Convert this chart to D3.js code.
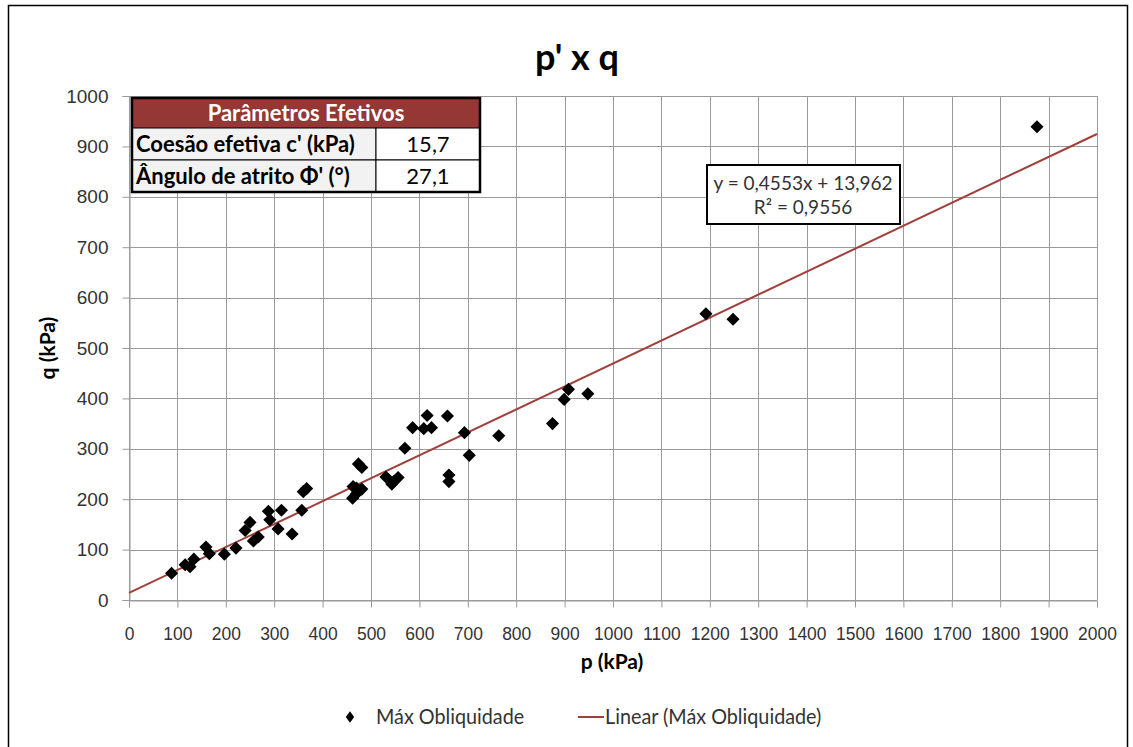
<!DOCTYPE html>
<html>
<head>
<meta charset="utf-8">
<script src="https://cdn.jsdelivr.net/npm/d3@7"></script>
<style>
  body { margin: 0; background: #fff; }
  svg { font-family: Lato, "Open Sans", sans-serif; }
</style>
</head>
<body>
<div id="chart"></div>
<script>
// tensões p x q na ruptura (máx obliquidade)
var pValues = [88, 116, 126, 134, 159, 166, 197, 221, 240, 250, 257, 267, 288, 291, 308, 315, 337,
  357, 360, 367, 462, 470, 470, 474, 481, 481, 463, 531, 543, 556, 548, 570, 586, 609, 616, 625,
  658, 661, 661, 693, 703, 764, 875, 899, 908, 948, 1192, 1248, 1876];
var qValues = [53, 70, 66, 81, 105, 92, 91, 103, 138, 154, 117, 125, 176, 159, 141, 178, 131,
  178, 215, 221, 202, 211, 222, 270, 263, 220, 225, 244, 230, 243, 236, 301, 342, 340, 366, 342,
  365, 248, 235, 332, 287, 326, 350, 398, 418, 409, 568, 557, 939];

var trendSlope = 0.4553;
var trendIntercept = 13.962;
var xTicks = d3.range(0, 2001, 100);
var yTicks = d3.range(0, 1001, 100);

var tableHeader = "Parâmetros Efetivos";
var tableRows = [["Coesão efetiva c' (kPa)", "15,7"], ["Ângulo de atrito Φ' (°)", "27,1"]];
var equationLines = ["y = 0,4553x + 13,962", "R² = 0,9556"];

var width = 1133, height = 747;
var plot = {left: 129, right: 1097, top: 96, bottom: 600};
var textColor = "#333";
var lineColor = "#a0403c";

var svg = d3.select("#chart").append("svg")
  .attr("width", width)
  .attr("height", height);

// moldura do gráfico
svg.append("rect")
  .attr("x", 8.5).attr("y", 5.5)
  .attr("width", 1119).attr("height", 760)
  .attr("fill", "#fff")
  .attr("stroke", "#000")
  .attr("stroke-width", 1.5);

var x = d3.scaleLinear().domain([0, 2000]).range([plot.left, plot.right]);
var y = d3.scaleLinear().domain([0, 1000]).range([plot.bottom, plot.top]);

// grade
var grid = svg.append("g");
grid.selectAll(".vg").data(xTicks).enter().append("line")
  .attr("x1", d => Math.round(x(d)) + 0.5).attr("x2", d => Math.round(x(d)) + 0.5)
  .attr("y1", plot.top).attr("y2", plot.bottom)
  .attr("stroke", "#9a9a9a");
grid.selectAll(".hg").data(yTicks).enter().append("line")
  .attr("x1", plot.left).attr("x2", plot.right)
  .attr("y1", d => Math.round(y(d)) + 0.5).attr("y2", d => Math.round(y(d)) + 0.5)
  .attr("stroke", "#9a9a9a");

// eixos
var yAxis = svg.append("g")
  .attr("transform", "translate(" + (plot.left + 0.5) + ",0)")
  .call(d3.axisLeft(y).tickValues(yTicks).tickSize(7).tickPadding(14).tickFormat(d3.format("d")));
yAxis.select(".domain").attr("stroke", "#9a9a9a");
yAxis.selectAll(".tick line").attr("stroke", "#9a9a9a");
yAxis.selectAll("text")
  .style("font-size", "19px")
  .attr("fill", textColor);

var xAxis = svg.append("g")
  .attr("transform", "translate(0," + (plot.bottom + 0.5) + ")")
  .call(d3.axisBottom(x).tickValues(xTicks).tickSize(7).tickFormat(d3.format("d")));
xAxis.select(".domain").attr("stroke", "#9a9a9a");
xAxis.selectAll(".tick line").attr("stroke", "#9a9a9a");
xAxis.selectAll("text")
  .attr("y", 0)
  .attr("dy", 0)
  .attr("transform", "translate(0,39) scale(0.92,1)")
  .style("font-size", "19px")
  .attr("fill", textColor);

// linha de tendência
var trend = d3.line()
  .x(d => x(d))
  .y(d => y(trendSlope * d + trendIntercept));
svg.append("path")
  .datum([0, 2000])
  .attr("d", trend)
  .attr("fill", "none")
  .attr("stroke", lineColor)
  .attr("stroke-width", 2);

// pontos
var diamond = d3.symbol().type(d3.symbolDiamond2).size(110);
svg.append("g").selectAll("path")
  .data(pValues.map((p, i) => ({p: p, q: qValues[i]})))
  .enter().append("path")
  .attr("d", diamond)
  .attr("transform", d => "translate(" + x(d.p) + "," + y(d.q) + ")")
  .attr("fill", "#000");

// títulos
svg.append("text")
  .attr("x", 577).attr("y", 70)
  .attr("text-anchor", "middle")
  .style("font-size", "36px").style("font-weight", "bold")
  .attr("fill", "#000")
  .text("p' x q");

svg.append("text")
  .attr("transform", "translate(55,348) rotate(-90)")
  .attr("text-anchor", "middle")
  .style("font-size", "21px").style("font-weight", "bold")
  .attr("fill", "#000")
  .text("q (kPa)");

svg.append("text")
  .attr("x", 612).attr("y", 669)
  .attr("text-anchor", "middle")
  .style("font-size", "21px").style("font-weight", "bold")
  .attr("fill", "#000")
  .text("p (kPa)");

// tabela de parâmetros
var table = svg.append("g").attr("transform", "translate(132,98)");
var colW = [244, 104], headH = 30, rowH = 32;
table.append("rect")
  .attr("width", colW[0] + colW[1]).attr("height", headH)
  .attr("fill", "#953735");
table.append("text")
  .attr("x", (colW[0] + colW[1]) / 2).attr("y", 23)
  .attr("text-anchor", "middle")
  .style("font-size", "22px").style("font-weight", "bold")
  .attr("fill", "#fff")
  .text(tableHeader);
tableRows.forEach(function(r, i) {
  var ty = headH + i * rowH;
  table.append("rect")
    .attr("y", ty).attr("width", colW[0]).attr("height", rowH)
    .attr("fill", "#f2f2f2").attr("stroke", "#000").attr("stroke-width", 1);
  table.append("rect")
    .attr("x", colW[0]).attr("y", ty).attr("width", colW[1]).attr("height", rowH)
    .attr("fill", "#fff").attr("stroke", "#000").attr("stroke-width", 1);
  table.append("text")
    .attr("x", 4).attr("y", ty + 24)
    .style("font-size", "22px").style("font-weight", "bold")
    .attr("fill", "#000")
    .text(r[0]);
  table.append("text")
    .attr("x", colW[0] + colW[1] / 2).attr("y", ty + 24)
    .attr("text-anchor", "middle")
    .style("font-size", "22px")
    .attr("fill", "#000")
    .text(r[1]);
});
table.append("rect")
  .attr("width", colW[0] + colW[1]).attr("height", headH + 2 * rowH)
  .attr("fill", "none").attr("stroke", "#000").attr("stroke-width", 2.5);

// caixa da equação
var eq = svg.append("g").attr("transform", "translate(707,165)");
eq.append("rect")
  .attr("width", 193).attr("height", 59)
  .attr("fill", "#fff").attr("stroke", "#000").attr("stroke-width", 2);
eq.selectAll("text").data(equationLines).enter().append("text")
  .attr("x", 96).attr("y", (d, i) => 25 + i * 24)
  .attr("text-anchor", "middle")
  .style("font-size", "19px")
  .attr("fill", textColor)
  .text(d => d);

// legenda
var legend = svg.append("g").attr("transform", "translate(0,717)");
legend.append("path")
  .attr("d", d3.symbol().type(d3.symbolDiamond2).size(70))
  .attr("transform", "translate(350,0) scale(0.8,1.1)")
  .attr("fill", "#000");
legend.append("text")
  .attr("transform", "translate(376,7) scale(0.9,1)")
  .style("font-size", "22px")
  .attr("fill", textColor)
  .text("Máx Obliquidade");
legend.append("line")
  .attr("x1", 578).attr("x2", 604).attr("y1", 0).attr("y2", 0)
  .attr("stroke", lineColor).attr("stroke-width", 2);
legend.append("text")
  .attr("transform", "translate(605,7) scale(0.9,1)")
  .style("font-size", "22px")
  .attr("fill", textColor)
  .text("Linear (Máx Obliquidade)");
</script>
</body>
</html>
